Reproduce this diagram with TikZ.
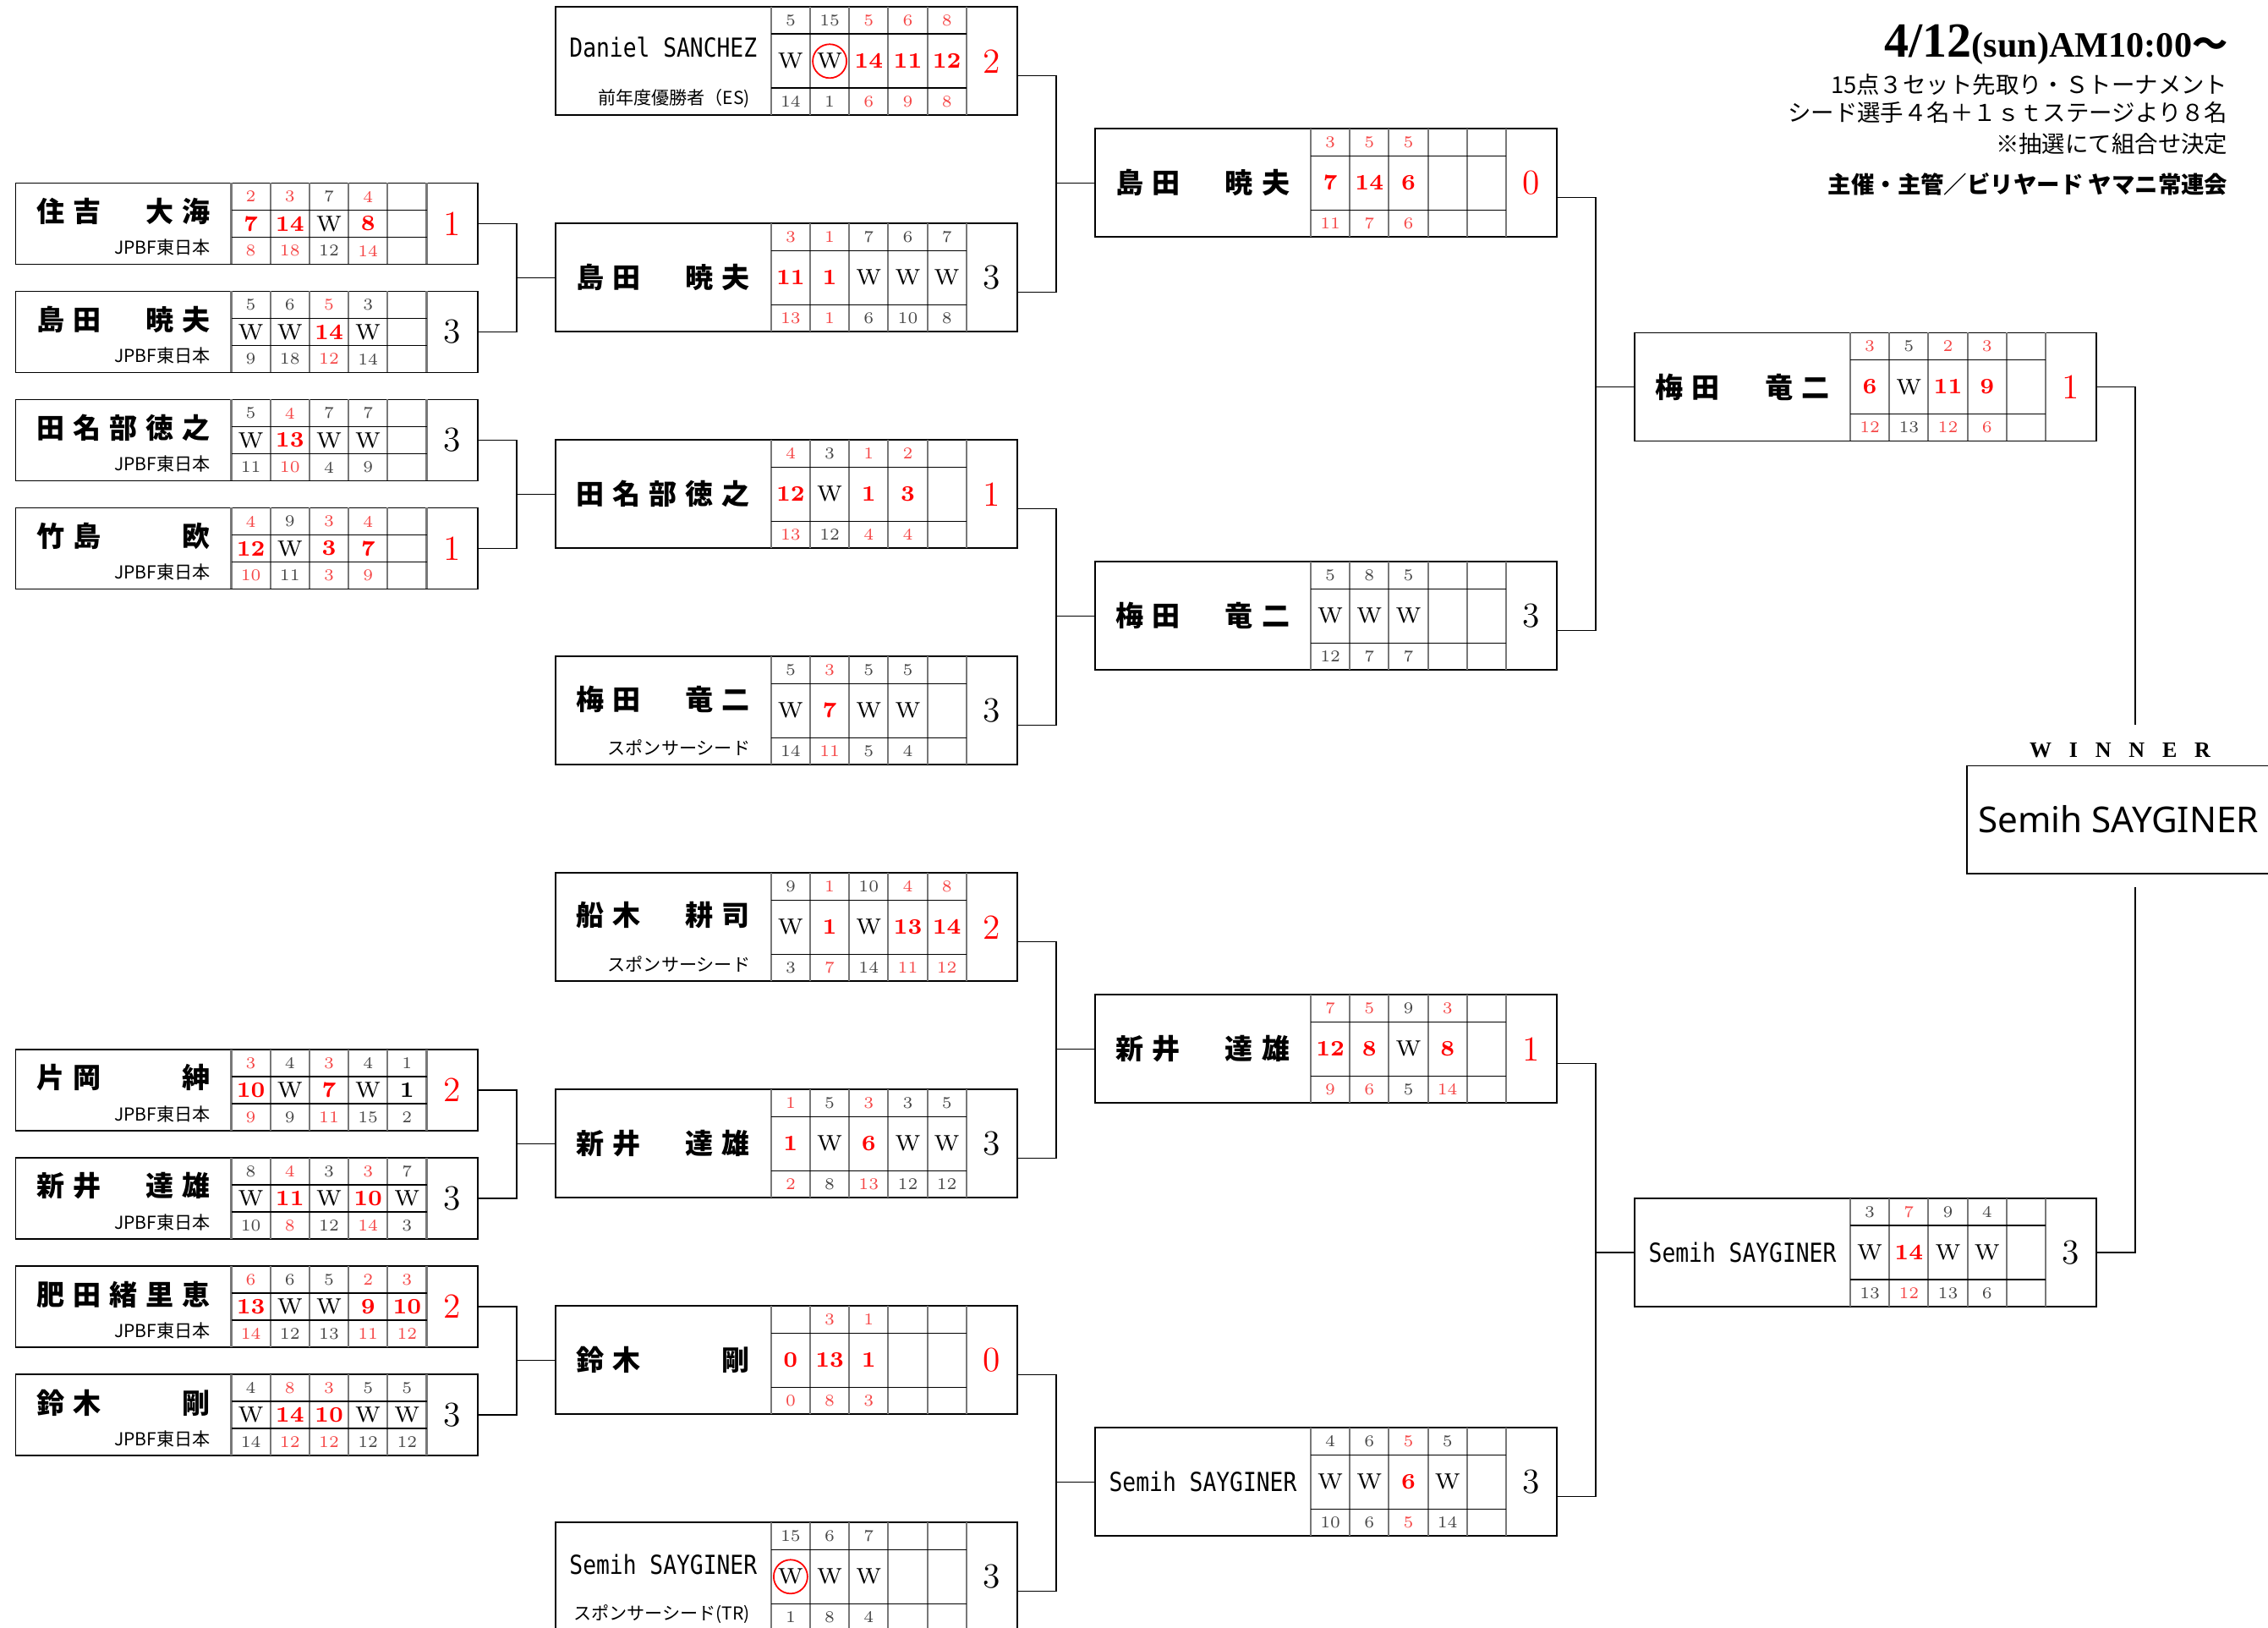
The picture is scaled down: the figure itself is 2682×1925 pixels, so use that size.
\documentclass[tikz,border=0pt]{standalone}
\usepackage{fontspec}
\newfontfamily\jp{Noto Sans CJK JP}
\newfontfamily\monofont{DejaVu Sans Mono}
\newfontfamily\winfont{Noto Sans}
\newfontfamily\tnr{Liberation Serif}

% 颜色
\definecolor{lossred}{RGB}{255,0,0}
\definecolor{smallr}{RGB}{245,70,70}
\definecolor{smallw}{RGB}{70,70,70}
\colorlet{smallb}{smallw}
\colorlet{midr}{lossred}
\colorlet{midw}{black}
\colorlet{midb}{black}
\colorlet{res0}{lossred}
\colorlet{res1}{lossred}
\colorlet{res2}{lossred}
\colorlet{res3}{black}
\definecolor{rulegray}{RGB}{120,120,120}

\tikzset{
  boxframe/.style={draw=black, line width=0.5pt, inner sep=0pt, outer sep=0pt},
  cellrule/.style={draw=rulegray, line width=0.6pt},
  cellrow/.style={draw=black, line width=0.45pt},
  wire/.style={draw=black, line width=0.45pt},
  setsmall/.style={inner sep=0pt, font=\fontsize{5.5}{6}\selectfont},
  setmid/.style={inner sep=0pt},
  setres/.style={inner sep=0pt, font=\fontsize{11.8}{13}\selectfont},
  namejp/.style={inner sep=0pt, font=\jp\bfseries\fontsize{9.4}{11}\selectfont},
  subline/.style={inner sep=0pt, anchor=east, font=\jp\fontsize{6}{7}\selectfont},
  hdr/.style={inner sep=0pt, anchor=east, font=\jp\fontsize{7.8}{9}\selectfont},
}

\newcommand\midfont[1]{\if#1w\else\bfseries\fi}
\newcommand\nameslots[5]{\makebox[0.43cm]{#1}\makebox[0.43cm]{#2}\makebox[0.43cm]{#3}\makebox[0.43cm]{#4}\makebox[0.43cm]{#5}}
\newcommand\latinname[1]{{\monofont\mdseries\fontsize{8.8}{10}\selectfont\scalebox{0.85}[1]{#1}}}

% 对阵框: id, x, y, 高, 名字y, 名字, 所属, 比分, 局数
\newcommand\matchbox[9]{%
  \node[boxframe, anchor=north west, minimum width=5.46cm, minimum height=#4*0.01cm] (#1) at (#2,#3) {};
  \foreach \k in {0,...,5}
    \draw[cellrule] ({#2+255+46.2*\k},#3) -- ++(0,#4);
  \draw[cellrow] ({#2+255},{#3+32}) -- ++(231,0);
  \draw[cellrow] ({#2+255},{#3+#4-32}) -- ++(231,0);
  \node[namejp] (#1-nm) at ({#2+127.5},{#3+#5}) {#6};
  \if\relax\detokenize{#7}\relax\else
    \node[subline] (#1-sb) at ({#2+231},{#3+#4-20}) {#7};
  \fi
  \foreach \t/\m/\b/\s [count=\k] in {#8} {
    \node[setsmall, text=small\s] (#1-t\k) at ({#2+231.9+46.2*\k},{#3+16}) {\t};
    \node[setmid, text=mid\s, font={\fontsize{7.4}{8}\selectfont\midfont{\s}}] (#1-m\k) at ({#2+231.9+46.2*\k},{#3+#4/2}) {\m};
    \node[setsmall, text=small\s] (#1-b\k) at ({#2+231.9+46.2*\k},{#3+#4-16}) {\b};
  }
  \node[setres, text=res#9] (#1-rs) at ({#2+516},{#3+#4/2}) {#9};
  \coordinate (#1-out) at ({#2+546},{#3+0.635*#4});
}

\begin{document}
\begin{tikzpicture}[x=0.01cm, y=-0.01cm]
\useasboundingbox (0,0) rectangle (2682,1925);

% 第一轮
\matchbox{b11}{18.5}{216.5}{96}{33.5}{\nameslots{住}{吉}{}{大}{海}}{JPBF東日本}{2/7/8/r, 3/14/18/r, 7/W/12/w, 4/8/14/r}{1}
\matchbox{b12}{18.5}{344.5}{96}{33.5}{\nameslots{島}{田}{}{暁}{夫}}{JPBF東日本}{5/W/9/w, 6/W/18/w, 5/14/12/r, 3/W/14/w}{3}
\matchbox{b13}{18.5}{472.5}{96}{33.5}{\nameslots{田}{名}{部}{徳}{之}}{JPBF東日本}{5/W/11/w, 4/13/10/r, 7/W/4/w, 7/W/9/w}{3}
\matchbox{b14}{18.5}{600.5}{96}{33.5}{\nameslots{竹}{島}{}{}{欧}}{JPBF東日本}{4/12/10/r, 9/W/11/w, 3/3/3/r, 4/7/9/r}{1}
\matchbox{b15}{18.5}{1241}{96}{33.5}{\nameslots{片}{岡}{}{}{紳}}{JPBF東日本}{3/10/9/r, 4/W/9/w, 3/7/11/r, 4/W/15/w, 1/1/2/b}{2}
\matchbox{b16}{18.5}{1369}{96}{33.5}{\nameslots{新}{井}{}{達}{雄}}{JPBF東日本}{8/W/10/w, 4/11/8/r, 3/W/12/w, 3/10/14/r, 7/W/3/w}{3}
\matchbox{b17}{18.5}{1497}{96}{33.5}{\nameslots{肥}{田}{緒}{里}{恵}}{JPBF東日本}{6/13/14/r, 6/W/12/w, 5/W/13/w, 2/9/11/r, 3/10/12/r}{2}
\matchbox{b18}{18.5}{1625}{96}{33.5}{\nameslots{鈴}{木}{}{}{剛}}{JPBF東日本}{4/W/14/w, 8/14/12/r, 3/10/12/r, 5/W/12/w, 5/W/12/w}{3}

% 第二轮
\matchbox{b21}{656.8}{8.3}{128}{48}{\latinname{Daniel SANCHEZ}}{前年度優勝者（ES)}{5/W/14/w, 15/W/1/w, 5/14/6/r, 6/11/9/r, 8/12/8/r}{2}
\matchbox{b22}{656.8}{264.3}{128}{64}{\nameslots{島}{田}{}{暁}{夫}}{}{3/11/13/r, 1/1/1/r, 7/W/6/w, 6/W/10/w, 7/W/8/w}{3}
\matchbox{b23}{656.8}{520.3}{128}{64}{\nameslots{田}{名}{部}{徳}{之}}{}{4/12/13/r, 3/W/12/w, 1/1/4/r, 2/3/4/r}{1}
\matchbox{b24}{656.8}{776.3}{128}{51}{\nameslots{梅}{田}{}{竜}{二}}{スポンサーシード}{5/W/14/w, 3/7/11/r, 5/W/5/w, 5/W/4/w}{3}
\matchbox{b25}{656.8}{1032.3}{128}{50}{\nameslots{船}{木}{}{耕}{司}}{スポンサーシード}{9/W/3/w, 1/1/7/r, 10/W/14/w, 4/13/11/r, 8/14/12/r}{2}
\matchbox{b26}{656.8}{1288.3}{128}{64}{\nameslots{新}{井}{}{達}{雄}}{}{1/1/2/r, 5/W/8/w, 3/6/13/r, 3/W/12/w, 5/W/12/w}{3}
\matchbox{b27}{656.8}{1544.3}{128}{64}{\nameslots{鈴}{木}{}{}{剛}}{}{{}/0/0/r, 3/13/8/r, 1/1/3/r}{0}
\matchbox{b28}{656.8}{1800.3}{128}{50}{\latinname{Semih SAYGINER}}{スポンサーシード(TR)}{15/W/1/w, 6/W/8/w, 7/W/4/w}{3}
\draw[lossred, line width=0.5pt] (b21-m2) circle[radius=0.2cm];
\draw[lossred, line width=0.5pt] (b28-m1) circle[radius=0.2cm];

% 准决赛
\matchbox{b31}{1295}{152.3}{128}{64}{\nameslots{島}{田}{}{暁}{夫}}{}{3/7/11/r, 5/14/7/r, 5/6/6/r}{0}
\matchbox{b32}{1295}{664.3}{128}{64}{\nameslots{梅}{田}{}{竜}{二}}{}{5/W/12/w, 8/W/7/w, 5/W/7/w}{3}
\matchbox{b33}{1295}{1176.3}{128}{64}{\nameslots{新}{井}{}{達}{雄}}{}{7/12/9/r, 5/8/6/r, 9/W/5/w, 3/8/14/r}{1}
\matchbox{b34}{1295}{1688.3}{128}{64}{\latinname{Semih SAYGINER}}{}{4/W/10/w, 6/W/6/w, 5/6/5/r, 5/W/14/w}{3}

% 决赛
\matchbox{b41}{1933}{393.4}{128}{64}{\nameslots{梅}{田}{}{竜}{二}}{}{3/6/12/r, 5/W/13/w, 2/11/12/r, 3/9/6/r}{1}
\matchbox{b42}{1933}{1417.2}{128}{64}{\latinname{Semih SAYGINER}}{}{3/W/13/w, 7/14/12/r, 9/W/13/w, 4/W/6/w}{3}

% 连线
\coordinate (x1) at (611,0);
\coordinate (x2) at (1249,0);
\coordinate (x3) at (1887,0);
\draw[wire] (b11.east) -| (x1 |- b22.west) |- (b12.east);
\draw[wire] (x1 |- b22.west) -- (b22.west);
\draw[wire] (b13.east) -| (x1 |- b23.west) |- (b14.east);
\draw[wire] (x1 |- b23.west) -- (b23.west);
\draw[wire] (b15.east) -| (x1 |- b26.west) |- (b16.east);
\draw[wire] (x1 |- b26.west) -- (b26.west);
\draw[wire] (b17.east) -| (x1 |- b27.west) |- (b18.east);
\draw[wire] (x1 |- b27.west) -- (b27.west);

\draw[wire] (b21-out) -| (x2 |- b31.west) |- (b22-out);
\draw[wire] (x2 |- b31.west) -- (b31.west);
\draw[wire] (b23-out) -| (x2 |- b32.west) |- (b24-out);
\draw[wire] (x2 |- b32.west) -- (b32.west);
\draw[wire] (b25-out) -| (x2 |- b33.west) |- (b26-out);
\draw[wire] (x2 |- b33.west) -- (b33.west);
\draw[wire] (b27-out) -| (x2 |- b34.west) |- (b28-out);
\draw[wire] (x2 |- b34.west) -- (b34.west);

\draw[wire] (b31-out) -| (x3 |- b41.west) |- (b32-out);
\draw[wire] (x3 |- b41.west) -- (b41.west);
\draw[wire] (b33-out) -| (x3 |- b42.west) |- (b34-out);
\draw[wire] (x3 |- b42.west) -- (b42.west);

% 优胜
\coordinate (wtop) at (2525,857);
\coordinate (wbot) at (2525,1049);
\draw[wire] (b41.east) -| (wtop);
\draw[wire] (b42.east) -| (wbot);
\node[inner sep=0pt, font=\tnr\bfseries\fontsize{7.4}{9}\selectfont] (winlabel) at (2507,887.5)
  {W\hspace{0.8em}I\hspace{0.8em}N\hspace{0.8em}N\hspace{0.8em}E\hspace{0.8em}R};
\node[boxframe, anchor=north west, minimum width=4cm, minimum height=1.27cm] (winner) at (2326,905.6) {};
\node[inner sep=0pt, font=\winfont\fontsize{12}{14}\selectfont] (champ) at (2505,968.7) {Semih SAYGINER};

% 标题
\node[inner sep=0pt, anchor=base east] (date) at (2635,68)
  {{\tnr\bfseries\fontsize{16.5}{18}\selectfont 4/12}{\tnr\bfseries\fontsize{12}{14}\selectfont (sun)AM10:00}{\jp\bfseries\fontsize{12}{14}\selectfont ～}};
\node[hdr] (rule1) at (2635,100) {15点３セット先取り・Ｓトーナメント};
\node[hdr] (rule2) at (2635,133) {シード選手４名＋１ｓｔステージより８名};
\node[hdr] (rule3) at (2635,170) {※抽選にて組合せ決定};
\node[hdr, font=\jp\bfseries\fontsize{7.8}{9}\selectfont] (host) at (2635,218) {主催・主管／ビリヤード ヤマニ常連会};
\end{tikzpicture}
\end{document}
